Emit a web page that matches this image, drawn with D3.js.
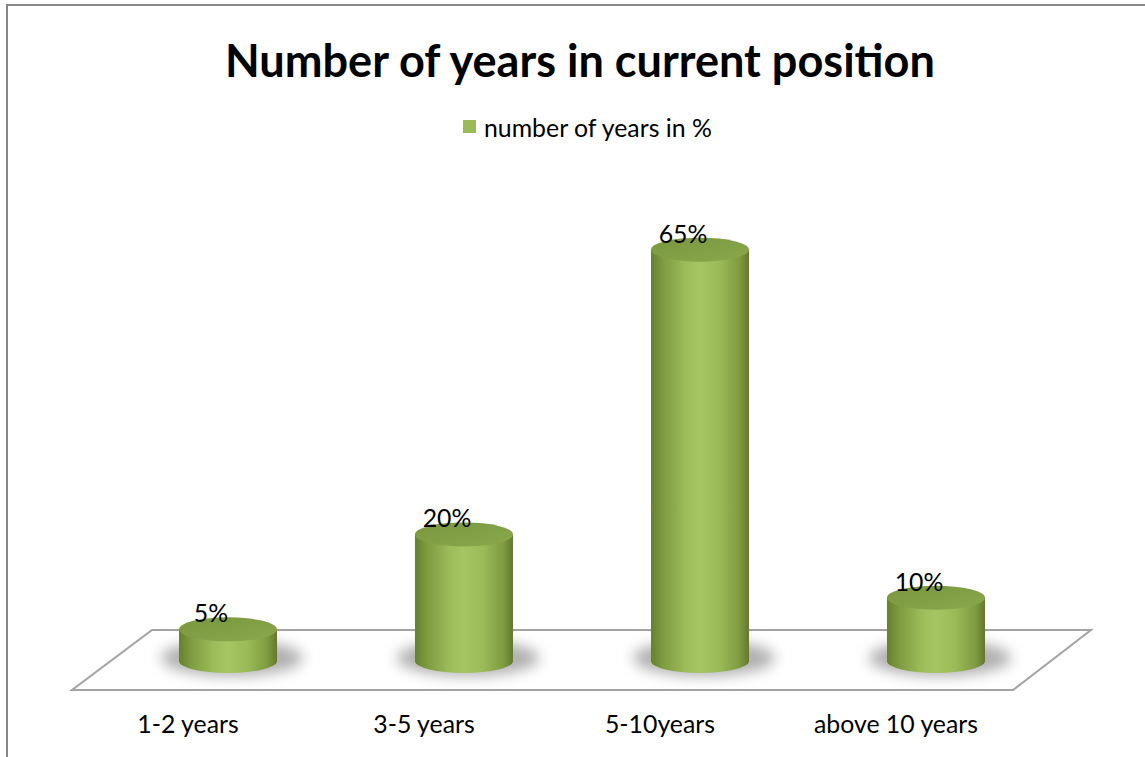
<!DOCTYPE html>
<html>
<head>
<meta charset="utf-8">
<script src="https://cdn.jsdelivr.net/npm/d3@7"></script>
<style>
  html, body { margin: 0; padding: 0; background: #fff; }
  svg { display: block; }
  text { font-family: Lato, "Open Sans", sans-serif; fill: #000; }
</style>
</head>
<body>
<svg id="chart" width="1145" height="757"></svg>
<script>
// Survey result: share of respondents by years in their current position
const categories = ["1-2 years", "3-5 years", "5-10years", "above 10 years"];
const values = [5, 20, 65, 10];
const valueLabels = ["5%", "20%", "65%", "10%"];
const seriesName = "number of years in %";
const chartTitle = "Number of years in current position";

const W = 1145, H = 757;
const svg = d3.select("#chart");

// Scales: the bars sit at mid-depth of the 3D floor
const x = d3.scalePoint().domain(categories).range([110, 1054]).padding(0.5);
const y = d3.scaleLinear().domain([0, 70]).range([661, 218]);

const barW = 98, rx = barW / 2, ry = 12;
const depthDx = 80;             // horizontal shift from front to back of the floor
const floorFront = 690, floorBack = 630;

const defs = svg.append("defs");

// Cylinder body shading (left-to-right)
const bodyGrad = defs.append("linearGradient").attr("id", "body").attr("x1", 0).attr("x2", 1).attr("y1", 0).attr("y2", 0);
[[0, "#66802f"], [0.12, "#7e9b40"], [0.35, "#9cbb59"], [0.5, "#a6c664"], [0.7, "#9ab957"], [0.9, "#7f9c41"], [1, "#62792c"]]
  .forEach(([o, c]) => bodyGrad.append("stop").attr("offset", o).attr("stop-color", c));

// Top cap shading
const capGrad = defs.append("linearGradient").attr("id", "cap").attr("x1", 0).attr("x2", 1).attr("y1", 0).attr("y2", 1);
[[0, "#7a9740"], [0.5, "#819f44"], [1, "#8aa84b"]]
  .forEach(([o, c]) => capGrad.append("stop").attr("offset", o).attr("stop-color", c));

const blur = defs.append("filter").attr("id", "soft").attr("x", "-50%").attr("y", "-100%").attr("width", "200%").attr("height", "300%");
blur.append("feGaussianBlur").attr("stdDeviation", 7);

// Chart frame
svg.append("rect")
  .attr("x", 7).attr("y", 5).attr("width", W + 20).attr("height", H + 20)
  .attr("fill", "none").attr("stroke", "#878787").attr("stroke-width", 2);

// Title
const title = svg.append("text")
  .attr("x", 580).attr("y", 77).attr("text-anchor", "middle")
  .attr("font-weight", "bold").attr("font-size", 40)
  .text(chartTitle);

function fitFont(sel, targetWidth) {
  const base = parseFloat(sel.attr("font-size"));
  const w = sel.node().getComputedTextLength();
  const fs = base * targetWidth / w;
  sel.attr("font-size", fs);
  return fs;
}
fitFont(title, 710);

// Legend
const legend = svg.append("g");
legend.append("rect").attr("x", 463).attr("y", 120).attr("width", 13).attr("height", 13).attr("fill", "#9bbb59");
const legText = legend.append("text").attr("x", 484).attr("y", 137).attr("font-size", 19).text(seriesName);
const bodySize = fitFont(legText, 228);

// Floor
svg.append("path")
  .attr("d", `M${72},${floorFront} L${1013},${floorFront} L${1013 + depthDx - 2},${floorBack} L${72 + depthDx},${floorBack} Z`)
  .attr("fill", "#fff").attr("stroke", "#a3a3a3").attr("stroke-width", 2);

// Shadows under the cylinders
svg.append("g").selectAll("ellipse")
  .data(values)
  .join("ellipse")
  .attr("cx", (d, i) => x(categories[i]) + 4)
  .attr("cy", y(0) - 3)
  .attr("rx", rx + 22)
  .attr("ry", ry + 6)
  .attr("fill", "#7a7a7a")
  .attr("opacity", 0.6)
  .attr("filter", "url(#soft)");

// Cylinders
const bars = svg.append("g").selectAll("g")
  .data(values)
  .join("g");

bars.append("path")
  .attr("fill", "url(#body)")
  .attr("d", (d, i) => {
    const cx = x(categories[i]);
    const l = cx - rx, r = cx + rx;
    const yt = y(d), yb = y(0);
    return `M${l},${yt} L${l},${yb} A${rx},${ry} 0 0 0 ${r},${yb} L${r},${yt} Z`;
  });

bars.append("ellipse")
  .attr("cx", (d, i) => x(categories[i]))
  .attr("cy", d => y(d))
  .attr("rx", rx)
  .attr("ry", ry)
  .attr("fill", "url(#cap)");

// Value labels
svg.append("g").selectAll("text")
  .data(values)
  .join("text")
  .attr("x", (d, i) => x(categories[i]) - 17)
  .attr("y", d => y(d) - 7)
  .attr("text-anchor", "middle")
  .attr("font-size", bodySize)
  .text((d, i) => valueLabels[i]);

// Category axis labels along the front edge of the floor
svg.append("g").selectAll("text")
  .data(categories)
  .join("text")
  .attr("x", d => x(d) - depthDx / 2)
  .attr("y", 733)
  .attr("text-anchor", "middle")
  .attr("font-size", bodySize)
  .text(d => d);
</script>
</body>
</html>
